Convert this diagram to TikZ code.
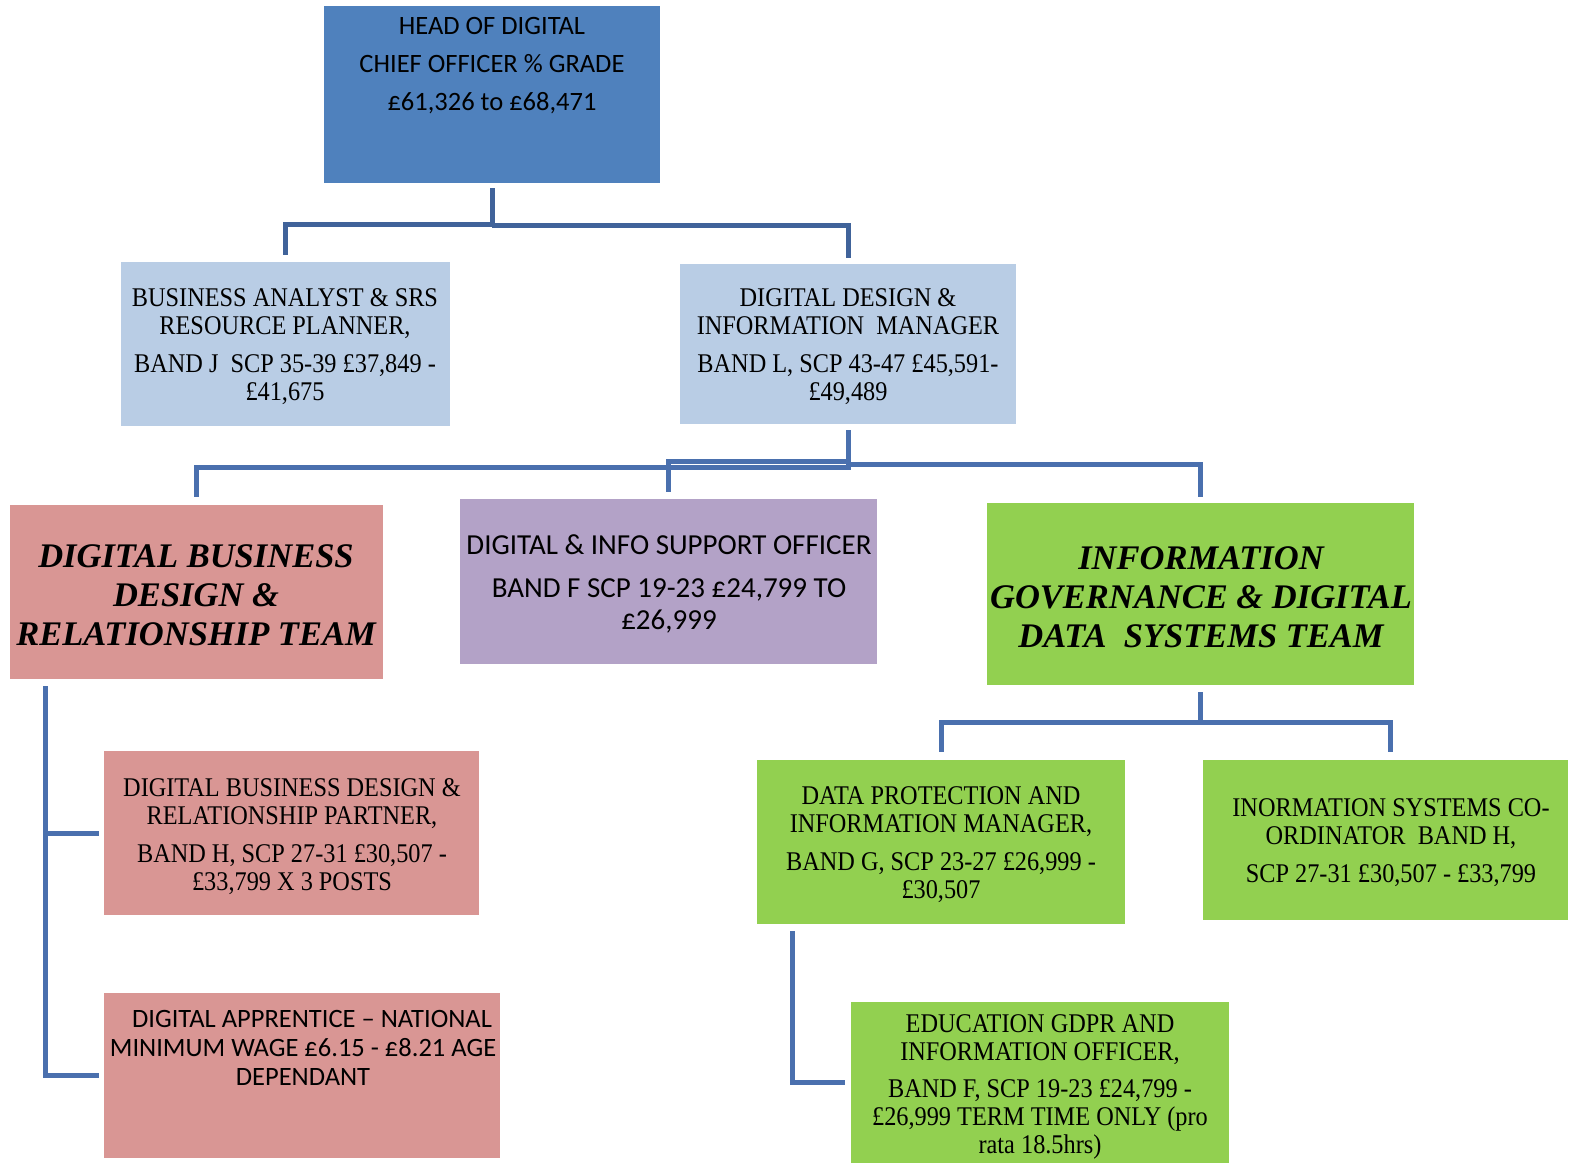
\documentclass[tikz,border=0pt]{standalone}
\usepackage{fontspec}
\setmainfont{Liberation Serif}
\newfontfamily\sercond[FakeStretch=0.9]{Liberation Serif}
\newfontfamily\calib{Carlito}
\usetikzlibrary{calc}
\definecolor{headblue}{HTML}{4F81BD}
\definecolor{lightblue}{HTML}{B9CDE5}
\definecolor{pinkbox}{HTML}{D99694}
\definecolor{purplebox}{HTML}{B3A2C7}
\definecolor{greenbox}{HTML}{92D050}
\definecolor{connblue}{HTML}{4A70AE}
\definecolor{conndark}{HTML}{40639A}
\tikzset{
  box/.style={rectangle, inner sep=0pt, anchor=north west, draw=none},
  txt/.style={align=center, inner sep=0pt, text=black},
  sertxt/.style={txt, font=\sercond\fontsize{27}{28}\selectfont},
  caltxt/.style={txt, font=\calib\fontsize{29}{32}\selectfont},
  teamtxt/.style={txt, font=\bfseries\itshape\fontsize{34.5}{39}\selectfont},
  conn/.style={draw=connblue, line width=5pt, line join=miter},
}
\begin{document}
\begin{tikzpicture}[x=1pt,y=-1pt]
\fill[white] (0,0) rectangle (1573,1168);
\useasboundingbox (0,0) rectangle (1573,1168);

% boxes
\node[box, fill=headblue, minimum width=336pt, minimum height=177pt] (head) at (324,6) {};
\node[box, fill=lightblue, minimum width=329pt, minimum height=164pt] (ba) at (121,262) {};
\node[box, fill=lightblue, minimum width=336pt, minimum height=160pt] (ddim) at (680,264) {};
\node[box, fill=pinkbox, minimum width=373pt, minimum height=174pt] (dbdr) at (10,505) {};
\node[box, fill=purplebox, minimum width=417pt, minimum height=165pt] (dis) at (460,499) {};
\node[box, fill=greenbox, minimum width=427pt, minimum height=182pt] (ig) at (987,503) {};
\node[box, fill=pinkbox, minimum width=375pt, minimum height=164pt] (part) at (104,751) {};
\node[box, fill=pinkbox, minimum width=396pt, minimum height=165pt] (appr) at (104,993) {};
\node[box, fill=greenbox, minimum width=368pt, minimum height=164pt] (dpim) at (757,760) {};
\node[box, fill=greenbox, minimum width=365pt, minimum height=160pt] (isc) at (1203,760) {};
\node[box, fill=greenbox, minimum width=378pt, minimum height=161pt] (eg) at (851,1002) {};

% texts
\node[txt, font=\calib\fontsize{26.5}{38}\selectfont] (head-t) at (492,66)
  {HEAD OF DIGITAL\\CHIEF OFFICER \% GRADE\\£61,326 to £68,471};
\node[sertxt] (ba-t) at (285,347)
  {BUSINESS ANALYST \& SRS\\RESOURCE PLANNER,\\[10pt]BAND J~ SCP 35-39 £37,849 -\\£41,675};
\node[sertxt] (ddim-t) at (848,347)
  {DIGITAL DESIGN \&\\INFORMATION~ MANAGER\\[10pt]BAND L, SCP 43-47 £45,591-\\£49,489};
\node[teamtxt] (dbdr-t) at (196,595)
  {DIGITAL BUSINESS\\DESIGN \&\\RELATIONSHIP TEAM};
\node[caltxt] (dis-t) at (669,584)
  {DIGITAL \& INFO SUPPORT OFFICER\\[11pt]BAND F SCP 19-23 £24,799 TO\\£26,999};
\node[teamtxt] (ig-t) at (1201,597)
  {INFORMATION\\GOVERNANCE \& DIGITAL\\DATA~ SYSTEMS TEAM};
\node[sertxt] (part-t) at (292,837)
  {DIGITAL BUSINESS DESIGN \&\\RELATIONSHIP PARTNER,\\[10pt]BAND H, SCP 27-31 £30,507 -\\£33,799 X 3 POSTS};
\node[txt, font=\calib\fontsize{26.5}{29}\selectfont] (appr-t) at (303,1048)
  {\hspace*{18pt}DIGITAL APPRENTICE – NATIONAL\\MINIMUM WAGE £6.15 - £8.21 AGE\\DEPENDANT};
\node[sertxt] (dpim-t) at (941,845)
  {DATA PROTECTION AND\\INFORMATION MANAGER,\\[10pt]BAND G, SCP 23-27 £26,999 -\\£30,507};
\node[sertxt] (isc-t) at (1391,843)
  {INORMATION SYSTEMS CO-\\ORDINATOR~ BAND H,\\[10pt]SCP 27-31 £30,507 - £33,799};
\node[sertxt] (eg-t) at (1040,1087)
  {EDUCATION GDPR AND\\INFORMATION OFFICER,\\[9pt]BAND F, SCP 19-23 £24,799 -\\£26,999 TERM TIME ONLY (pro\\rata 18.5hrs)};

% connectors
\draw[conn, draw=conndark] ($(head.south)+(0,5)$) |- ($(ba.north)+(0,-38)$) -- ($(ba.north)+(0,-7)$);
\draw[conn, draw=conndark] ($(head.south)+(0,42)$) -| ($(ddim.north)+(0,-6)$);
\draw[conn] ($(ddim.south)+(0,6)$) |- ($(dbdr.north)+(0,-38)$) -- ($(dbdr.north)+(0,-8)$);
\draw[conn] ($(ddim.south)+(0,37)$) -| ($(dis.north)+(0,-7)$);
\draw[conn] ($(ddim.south)+(0,40)$) -| ($(ig.north)+(0,-6)$);
\draw[conn] ($(dbdr.south west)+(35,7)$) |- ($(part.west)+(-5,0)$);
\draw[conn] ($(dbdr.south west)+(35,7)$) |- ($(appr.west)+(-5,0)$);
\draw[conn] ($(ig.south)+(0,7)$) -- ($(ig.south)+(0,37)$) -| ($(dpim.north)+(0,-8)$);
\draw[conn] ($(ig.south)+(0,37)$) -| ($(isc.north)+(5,-8)$);
\draw[conn] ($(dpim.south west)+(35,7)$) |- ($(eg.west)+(-6,0)$);
\end{tikzpicture}
\end{document}
